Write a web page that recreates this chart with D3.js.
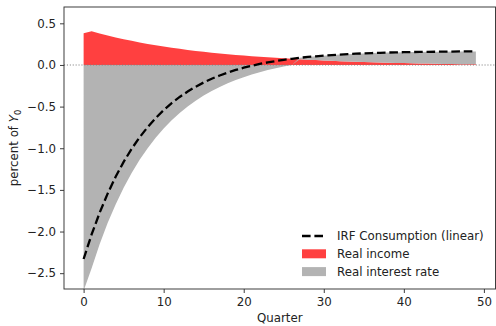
<!DOCTYPE html>
<html>
<head>
<meta charset="utf-8">
<script src="https://cdn.jsdelivr.net/npm/d3@7"></script>
<style>
  html, body { margin: 0; padding: 0; background: #fff; }
  svg { display: block; font-family: "DejaVu Sans", sans-serif; }
</style>
</head>
<body>
<svg id="chart" width="496" height="326"></svg>
<script>
// Quarters after the shock
const quarters = d3.range(0, 50);

// Contribution of real income to the consumption response (percent of Y0)
const realIncome = [
  0.380, 0.405, 0.379, 0.354, 0.331, 0.310, 0.290, 0.271, 0.253, 0.237,
  0.221, 0.207, 0.194, 0.181, 0.169, 0.158, 0.148, 0.138, 0.129, 0.121,
  0.113, 0.106, 0.099, 0.092, 0.086, 0.081, 0.075, 0.069, 0.064, 0.059,
  0.055, 0.050, 0.046, 0.043, 0.039, 0.036, 0.033, 0.030, 0.028, 0.025,
  0.023, 0.021, 0.019, 0.017, 0.015, 0.013, 0.012, 0.010, 0.009, 0.008
];

// Contribution of the real interest rate (percent of Y0)
const realInterestRate = [
  -2.710, -2.440, -2.154, -1.899, -1.674, -1.474, -1.297, -1.139, -0.999, -0.875,
  -0.763, -0.665, -0.578, -0.500, -0.430, -0.368, -0.313, -0.264, -0.220, -0.181,
  -0.146, -0.115, -0.087, -0.061, -0.039, -0.019, -0.001, 0.017, 0.032, 0.045,
  0.057, 0.069, 0.079, 0.087, 0.096, 0.103, 0.110, 0.116, 0.121, 0.126,
  0.130, 0.134, 0.138, 0.141, 0.144, 0.147, 0.149, 0.152, 0.153, 0.155
];

// Linear impulse response of consumption (percent of Y0)
const irfConsumption = [
  -2.330, -2.035, -1.775, -1.545, -1.343, -1.164, -1.007, -0.868, -0.746, -0.638,
  -0.542, -0.458, -0.384, -0.319, -0.261, -0.210, -0.165, -0.126, -0.091, -0.060,
  -0.033, -0.009, 0.012, 0.031, 0.047, 0.062, 0.074, 0.086, 0.096, 0.104,
  0.112, 0.119, 0.125, 0.130, 0.135, 0.139, 0.143, 0.146, 0.149, 0.151,
  0.153, 0.155, 0.157, 0.158, 0.159, 0.160, 0.161, 0.162, 0.162, 0.163
];

const xTicks = [0, 10, 20, 30, 40, 50];
const yTicks = [0.5, 0.0, -0.5, -1.0, -1.5, -2.0, -2.5];

const seriesKeys = ["income", "interest"];
const seriesNames = { income: "Real income", interest: "Real interest rate" };
const seriesColors = { income: "#ff4040", interest: "#b3b3b3" };

const rows = quarters.map((q, i) => ({
  q, income: realIncome[i], interest: realInterestRate[i], irf: irfConsumption[i]
}));

const FONT = "11.8px";
const svg = d3.select("#chart");
const plotLeft = 64, plotRight = 495.5, plotTop = 7, plotBottom = 289;

const x = d3.scaleLinear().domain([-2.45, 51.45]).range([plotLeft, plotRight]);
const y = d3.scaleLinear().domain([-2.69, 0.696]).range([plotBottom, plotTop]);

// Positive and negative contributions stack away from zero separately
const stacked = d3.stack()
  .keys(seriesKeys)
  .offset(d3.stackOffsetDiverging)(rows);

const area = d3.area()
  .x(d => x(d.data.q))
  .y0(d => y(d[0]))
  .y1(d => y(d[1]));

const plot = svg.append("g");
plot.selectAll("path.layer")
  .data(stacked)
  .join("path")
  .attr("class", "layer")
  .attr("fill", d => seriesColors[d.key])
  .attr("d", area);

// Zero reference line
plot.append("line")
  .attr("x1", plotLeft).attr("x2", plotRight)
  .attr("y1", y(0)).attr("y2", y(0))
  .attr("stroke", "#808080")
  .attr("stroke-width", 1.1)
  .attr("stroke-dasharray", "1.1,1.8");

// Consumption response
const line = d3.line().x(d => x(d.q)).y(d => y(d.irf));
plot.append("path")
  .datum(rows)
  .attr("fill", "none")
  .attr("stroke", "#000")
  .attr("stroke-width", 2.3)
  .attr("stroke-dasharray", "8.6,3.8")
  .attr("d", line);

// Axes
const xAxis = svg.append("g")
  .attr("transform", `translate(0,${plotBottom})`)
  .call(d3.axisBottom(x).tickValues(xTicks).tickSize(4).tickPadding(4.5).tickFormat(d3.format("d")));
const yAxis = svg.append("g")
  .attr("transform", `translate(${plotLeft},0)`)
  .call(d3.axisLeft(y).tickValues(yTicks).tickSize(4).tickPadding(4)
    .tickFormat(d => d3.format(".1f")(d).replace("-", "\u2212")));

[xAxis, yAxis].forEach(a => {
  a.select(".domain").remove();
  a.selectAll(".tick line").attr("stroke", "#333").attr("stroke-width", 0.95);
  a.selectAll(".tick text")
    .attr("fill", "#222")
    .style("font-size", FONT)
    .style("font-family", "'DejaVu Sans', sans-serif");
});

// Frame
svg.append("rect")
  .attr("x", plotLeft).attr("y", plotTop)
  .attr("width", plotRight - plotLeft).attr("height", plotBottom - plotTop)
  .attr("fill", "none")
  .attr("stroke", "#333")
  .attr("stroke-width", 0.95);

// Axis titles
svg.append("text")
  .attr("x", (plotLeft + plotRight) / 2).attr("y", 322)
  .attr("text-anchor", "middle")
  .attr("fill", "#222")
  .style("font-size", FONT)
  .text("Quarter");

const yLabel = svg.append("text")
  .attr("transform", `translate(18,${(plotTop + plotBottom) / 2}) rotate(-90)`)
  .attr("text-anchor", "middle")
  .attr("fill", "#222")
  .style("font-size", FONT);
yLabel.append("tspan").text("percent of ");
yLabel.append("tspan").style("font-style", "italic").text("Y");
yLabel.append("tspan").attr("dy", 2.5).style("font-size", "8.3px").text("0");

// Legend
const legendItems = [
  { label: "IRF Consumption (linear)", type: "line" },
  { label: seriesNames.income, type: "patch", color: seriesColors.income },
  { label: seriesNames.interest, type: "patch", color: seriesColors.interest }
];
const legend = svg.append("g").attr("transform", "translate(302,236)");
legendItems.forEach((item, i) => {
  const g = legend.append("g").attr("transform", `translate(0,${i * 17.8})`);
  if (item.type === "line") {
    g.append("line")
      .attr("x1", 0).attr("x2", 24).attr("y1", 0).attr("y2", 0)
      .attr("stroke", "#000").attr("stroke-width", 2.3)
      .attr("stroke-dasharray", "8.6,3.8");
  } else {
    g.append("rect")
      .attr("x", 0).attr("y", -4.5).attr("width", 24).attr("height", 9)
      .attr("fill", item.color);
  }
  g.append("text")
    .attr("x", 35).attr("y", 4.2)
    .attr("fill", "#222")
    .style("font-size", FONT)
    .text(item.label);
});
</script>
</body>
</html>
